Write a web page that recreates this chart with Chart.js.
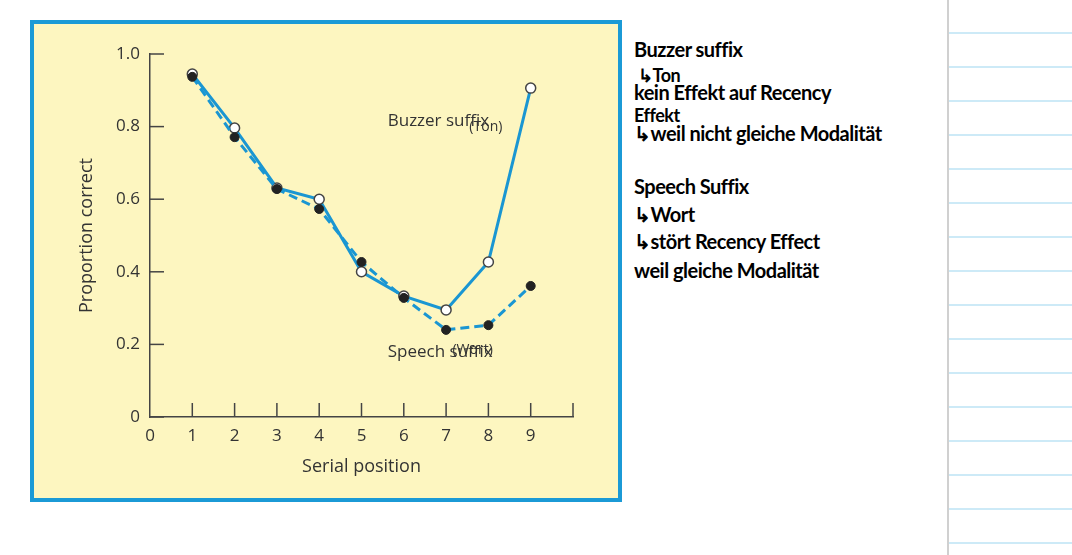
<!DOCTYPE html>
<html><head><meta charset="utf-8">
<script src="https://cdn.jsdelivr.net/npm/chart.js@4"></script>
<style>
body{margin:0;width:1072px;height:555px;background:#fff;position:relative;overflow:hidden;font-family:"DejaVu Sans",sans-serif}
#box{position:absolute;left:30px;top:20px;width:584px;height:474px;border:4px solid #1b9ad6;background:#fdf6c0}
#vline{position:absolute;left:947px;top:0;width:2px;height:555px;background:#d0d0d0}
.hl{position:absolute;left:949px;width:123px;height:2px;background:#cdeaf7}
.n{position:absolute;left:634px;font-family:"Lato",sans-serif;font-weight:bold;font-size:20px;line-height:19px;color:#000;white-space:nowrap;letter-spacing:-0.5px}
</style></head><body>
<div id="box"><canvas id="c" width="584" height="474"></canvas></div>
<div id="vline"></div>
<div id="lines"></div>
<div class="n" style="top:40px">Buzzer suffix</div>
<div class="n" style="top:66px;left:638px;font-size:18px">↳Ton</div>
<div class="n" style="top:83px">kein Effekt auf Recency</div>
<div class="n" style="top:106px;font-size:18px">Effekt</div>
<div class="n" style="top:124px">↳weil nicht gleiche Modalität</div>
<div class="n" style="top:177px">Speech Suffix</div>
<div class="n" style="top:205px">↳Wort</div>
<div class="n" style="top:232px">↳stört Recency Effect</div>
<div class="n" style="top:261px">weil gleiche Modalität</div>
<script>
const positions=[1,2,3,4,5,6,7,8,9];
const buzzer=[0.945,0.796,0.631,0.600,0.400,0.333,0.295,0.427,0.906];
const speech=[0.937,0.771,0.628,0.573,0.427,0.328,0.240,0.253,0.361];
const yTicks=[0,0.2,0.4,0.6,0.8,1.0];
const yTickLabels=['0','0.2','0.4','0.6','0.8','1.0'];
const xTicks=[0,1,2,3,4,5,6,7,8,9,10];
const xTickLabels=['0','1','2','3','4','5','6','7','8','9',''];
const notes=[{x:5.62,y:0.815,t:'Buzzer suffix',s:17},{x:7.55,y:0.80,t:'(Ton)',s:14},{x:5.62,y:0.178,t:'Speech suffix',s:17},{x:7.15,y:0.185,t:'(Wort)',s:14}];
const lc=document.getElementById('lines');
for(let y=32;y<555;y+=34){const d=document.createElement('div');d.className='hl';d.style.top=y+'px';lc.appendChild(d);}
const ink='#444';
const F='"Open Sans"';
const inward={id:'inward',afterDraw(ch){const c=ch.ctx,x=ch.scales.x,y=ch.scales.y;c.save();c.strokeStyle=ink;c.lineWidth=1.5;
 yTicks.forEach(v=>{const p=y.getPixelForValue(v);c.beginPath();c.moveTo(x.left,p);c.lineTo(x.left+14,p);c.stroke();});
 xTicks.slice(1).forEach(v=>{const p=x.getPixelForValue(v);c.beginPath();c.moveTo(p,y.bottom);c.lineTo(p,y.bottom-14);c.stroke();});
 c.textBaseline='middle';
 notes.forEach(n=>{c.font=n.s+'px '+F;c.fillStyle='#333';c.fillText(n.t,x.getPixelForValue(n.x),y.getPixelForValue(n.y));});
 c.restore();}};
new Chart(document.getElementById('c'),{type:'line',
 data:{datasets:[
  {label:'Speech suffix',data:positions.map((p,i)=>({x:p,y:speech[i]})),borderColor:'#1a96d2',borderWidth:3,borderDash:[9,5],pointBackgroundColor:'#222',pointBorderColor:'#222',pointBorderWidth:1,pointRadius:4.5},
  {label:'Buzzer suffix',data:positions.map((p,i)=>({x:p,y:buzzer[i]})),borderColor:'#1a96d2',borderWidth:3,pointBackgroundColor:'#fff',pointBorderColor:'#444',pointBorderWidth:1.5,pointRadius:5}
 ]},
 options:{responsive:false,animation:false,layout:{padding:{top:30,right:45}},
  plugins:{legend:{display:false},tooltip:{enabled:false}},
  scales:{
   x:{type:'linear',min:0,max:10,afterBuildTicks:s=>{s.ticks=xTicks.map(v=>({value:v}));},afterFit:s=>{s.height=81;},
      grid:{display:false,drawTicks:false},border:{color:ink,width:1.5},
      ticks:{padding:9,color:'#333',font:{size:17,family:F},callback:(v,i)=>xTickLabels[i]},
      title:{display:true,text:'Serial position',color:'#333',font:{size:18,family:F},padding:{top:0,bottom:20}}},
   y:{min:0,max:1,afterBuildTicks:s=>{s.ticks=yTicks.map(v=>({value:v}));},afterFit:s=>{s.width=116;},
      grid:{display:false,drawTicks:false},border:{color:ink,width:1.5},
      ticks:{padding:10,color:'#333',font:{size:17,family:F},callback:(v,i)=>yTickLabels[i]},
      title:{display:true,text:'Proportion correct',color:'#333',font:{size:18,family:F},padding:{top:42,bottom:0}}}
  }},plugins:[inward]});
</script></body></html>
